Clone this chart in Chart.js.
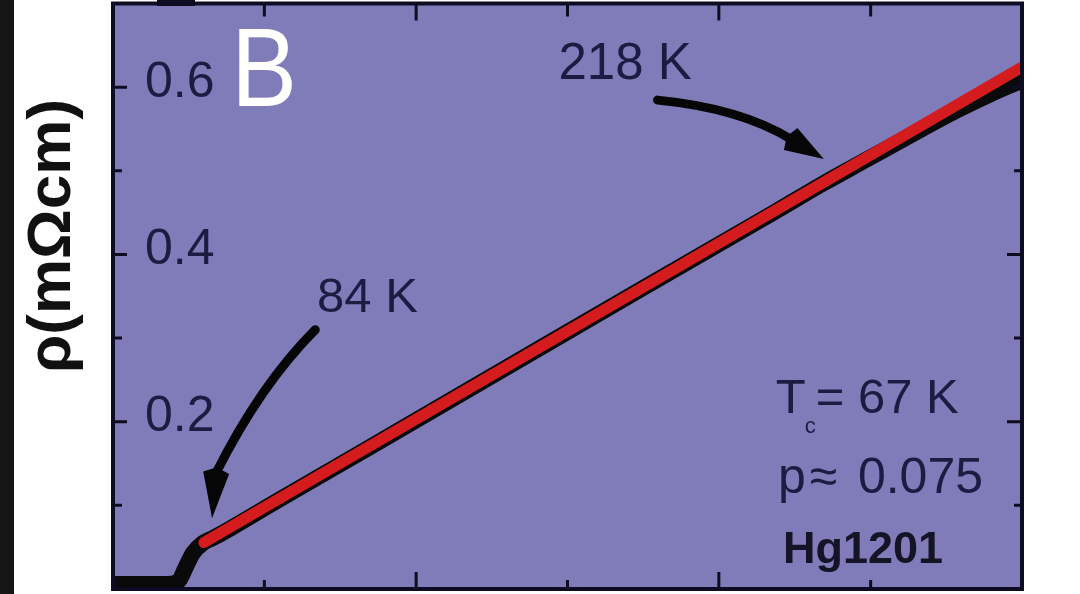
<!DOCTYPE html>
<html><head><meta charset="utf-8">
<script src="https://cdn.jsdelivr.net/npm/chart.js@4.4.1/dist/chart.umd.min.js"></script>
<style>html,body{margin:0;padding:0;background:#fff;overflow:hidden}#wrap{width:1080px;height:594px;position:relative}</style>
</head><body><div id="wrap"><canvas id="c" width="1080" height="594"></canvas></div>
<script>
// measured resistivity (black) : temperature in K, rho in mOhm cm
const temperatureK = [64, 70, 76, 78.5, 80, 81.6, 83.8, 86, 90, 100, 120, 150, 180, 210, 220, 230, 240, 250, 258, 264];
const resistivity  = [0.006, 0.006, 0.006, 0.010, 0.026, 0.043, 0.055, 0.061, 0.073, 0.105, 0.168, 0.263, 0.358, 0.452, 0.484, 0.514, 0.544, 0.573, 0.594, 0.608];
// linear fit (red)
const fitT   = [84, 264];
const fitRho = [0.0555, 0.624];
// axis ticks
const xTicks = [64, 97.3, 130.7, 164, 197.3, 230.7, 264];
const yTicks = [0.1, 0.2, 0.3, 0.4, 0.5, 0.6];
const yLabeled = [0.2, 0.4, 0.6];
// annotations (data coords)
const arrow84  = [[108.5, 0.310], [96.4, 0.244], [86.7, 0.139], [85.8, 0.0845]];
const arrow218 = [[183.8, 0.5845], [201.9, 0.575], [213.1, 0.538], [220.4, 0.514]];

const FONT = "'Liberation Sans', Arial, sans-serif";
const TEXT = '#1d1b42';

const deco = {
  id: 'deco',
  beforeDraw(chart) {
    const {ctx, chartArea: a} = chart;
    ctx.save();
    ctx.fillStyle = '#ffffff'; ctx.fillRect(0, 0, chart.width, chart.height);
    ctx.fillStyle = '#151515'; ctx.fillRect(0, 0, 14, chart.height);
    ctx.fillStyle = '#807cba'; ctx.fillRect(a.left, a.top, a.right - a.left, a.bottom - a.top);
    ctx.restore();
  },
  afterDatasetsDraw(chart) {
    const {ctx, chartArea: a} = chart;
    const X = v => chart.scales.x.getPixelForValue(v);
    const Y = v => chart.scales.y.getPixelForValue(v);
    ctx.save();
    // frame
    ctx.strokeStyle = '#0e0c22';
    ctx.lineWidth = 4;
    ctx.strokeRect(a.left, a.top, a.right - a.left, a.bottom - a.top);
    ctx.fillStyle = '#0e0c22';
    ctx.fillRect(157, 0, 38, 6);
    // ticks
    ctx.lineWidth = 3;
    ctx.beginPath();
    yTicks.forEach(v => {
      const major = yLabeled.some(l => Math.abs(l - v) < 1e-6);
      const y = Y(v);
      ctx.moveTo(a.left, y); ctx.lineTo(a.left + (major ? 14 : 9), y);
      ctx.moveTo(a.right, y); ctx.lineTo(a.right - (major ? 15 : 8), y);
    });
    xTicks.forEach((v, i) => {
      if (i === 0 || i === xTicks.length - 1) return;
      const major = i % 2 === 0;
      const x = X(v);
      ctx.moveTo(x, a.bottom); ctx.lineTo(x, a.bottom - (major ? 17 : 9));
      ctx.moveTo(x, a.top); ctx.lineTo(x, a.top + (major ? 17 : 13));
    });
    ctx.stroke();
    // arrows
    const drawArrow = (pts, hw) => {
      const p = pts.map(([t, r]) => [X(t), Y(r)]);
      ctx.strokeStyle = '#060606'; ctx.fillStyle = '#060606';
      ctx.lineWidth = 9; ctx.lineCap = 'round';
      ctx.beginPath();
      ctx.moveTo(p[0][0], p[0][1]);
      ctx.quadraticCurveTo(p[1][0], p[1][1], p[2][0], p[2][1]);
      ctx.stroke();
      const dx = p[3][0] - p[2][0], dy = p[3][1] - p[2][1];
      const L = Math.hypot(dx, dy), nx = -dy / L, ny = dx / L;
      ctx.beginPath();
      ctx.moveTo(p[3][0], p[3][1]);
      ctx.lineTo(p[2][0] + nx * hw, p[2][1] + ny * hw);
      ctx.lineTo(p[2][0] - dx * 0.12, p[2][1] - dy * 0.12);
      ctx.lineTo(p[2][0] - nx * hw, p[2][1] - ny * hw);
      ctx.closePath();
      ctx.fill();
    };
    drawArrow(arrow84, 13);
    drawArrow(arrow218, 13);
    // texts
    ctx.textAlign = 'left'; ctx.textBaseline = 'alphabetic';
    ctx.fillStyle = '#ffffff';
    ctx.save();
    ctx.translate(X(90), Y(0.577));
    ctx.scale(0.88, 1);
    ctx.font = '112px ' + FONT;
    ctx.fillText('B', 0, 0);
    ctx.restore();
    ctx.fillStyle = TEXT;
    ctx.font = '51px ' + FONT;
    ctx.fillText('218 K', X(162.0), Y(0.6097));
    ctx.font = '49px ' + FONT;
    ctx.fillText('84 K', X(108.9), Y(0.3315));
    ctx.fillText('T', X(209.8), Y(0.2104));
    ctx.fillText('= 67 K', X(218.6), Y(0.2104));
    ctx.font = '22px ' + FONT;
    ctx.fillText('c', X(216.2), Y(0.1865));
    ctx.font = '50px ' + FONT;
    ctx.fillText('p', X(210.3), Y(0.1145));
    ctx.fillText('\u2248', X(217.3), Y(0.1145));
    ctx.fillText('0.075', X(227.9), Y(0.1145));
    ctx.fillStyle = '#151427';
    ctx.font = 'bold 45px ' + FONT;
    ctx.fillText('Hg1201', X(211.4), Y(0.0306));
    // y axis title
    ctx.save();
    ctx.translate(70, 236);
    ctx.rotate(-Math.PI / 2);
    ctx.textAlign = 'center';
    ctx.fillStyle = '#111111';
    ctx.font = 'bold 62px ' + FONT;
    ctx.fillText('\u03c1(m\u03a9cm)', 0, 0);
    ctx.restore();
    ctx.restore();
  }
};

new Chart(document.getElementById('c'), {
  type: 'line',
  data: {
    datasets: [
      {
        label: 'fit',
        data: fitT.map((t, i) => ({x: t, y: fitRho[i]})),
        borderColor: '#d41c1f', borderWidth: 11, borderCapStyle: 'round',
        pointRadius: 0, clip: 0, order: 0
      },
      {
        label: 'data',
        data: temperatureK.map((t, i) => ({x: t, y: resistivity[i]})),
        borderColor: '#0a0a0a', borderWidth: 16, borderCapStyle: 'round', borderJoinStyle: 'round',
        cubicInterpolationMode: 'monotone',
        pointRadius: 0, clip: 0, order: 1
      }
    ]
  },
  options: {
    responsive: false, animation: false, devicePixelRatio: 1,
    layout: { autoPadding: false, padding: { left: 0, right: 58, top: 3.5, bottom: 5 } },
    plugins: { legend: { display: false }, tooltip: { enabled: false } },
    scales: {
      x: { type: 'linear', min: xTicks[0], max: xTicks[xTicks.length - 1], display: false },
      y: {
        type: 'linear', min: 0, max: 0.7,
        afterFit(s) { s.width = 113; s.paddingTop = 0; s.paddingBottom = 0; s.paddingLeft = 0; s.paddingRight = 0; },
        grid: { display: false }, border: { display: false },
        ticks: {
          stepSize: 0.1, autoSkip: false, mirror: true, padding: 32, labelOffset: -4,
          color: TEXT, font: { family: FONT, size: 50 },
          callback: v => yLabeled.some(l => Math.abs(l - v) < 1e-6) ? v.toFixed(1) : ''
        }
      }
    }
  },
  plugins: [deco]
});
</script>
</body></html>
